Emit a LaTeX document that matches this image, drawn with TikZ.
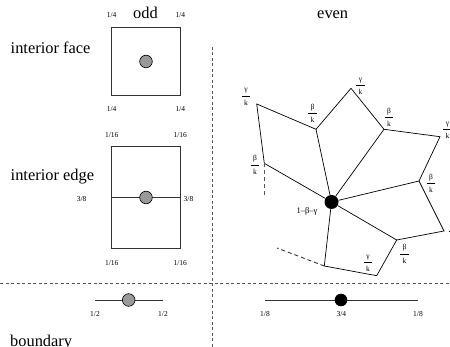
\documentclass[tikz,border=0pt]{standalone}
\usepackage{fontspec}
\setmainfont{Liberation Serif}
\definecolor{dotgray}{HTML}{999999}
\definecolor{rulegray}{HTML}{555555}
\newcommand{\overk}[1]{\begin{tabular}{@{\hspace{2.5pt}}c@{\hspace{2.5pt}}}#1\\\hline k\end{tabular}}

\begin{document}
\begin{tikzpicture}[x=1pt,y=-1pt,
  title/.style={font=\fontsize{16.4}{18}\selectfont,inner sep=0},
  wt/.style={font=\fontsize{7.5}{9}\selectfont,inner sep=0,anchor=base},
  fr/.style={font=\fontsize{7.5}{13}\selectfont,inner sep=0},
  cell/.style={draw=black!80,line width=0.7pt,inner sep=0},
  odddot/.style={circle,draw,line width=0.6pt,fill=dotgray,minimum size=12.6pt,inner sep=0},
  evendot/.style={circle,fill=black,minimum size=#1,inner sep=0},
  edge/.style={line width=0.7pt},
  stub/.style={line width=0.9pt,dash pattern=on 4pt off 3pt},
  divider/.style={draw=rulegray,line width=0.9pt,dash pattern=on 3pt off 2.5pt}]

  \useasboundingbox (0,0) rectangle (450,347);
  \clip (0,0) rectangle (450,347);

  \node[title,anchor=base] (odd) at (145.5,19) {odd};
  \node[title,anchor=base] (even) at (332.7,18.5) {even};
  \node[title,anchor=base west] (face) at (10.5,53.5) {interior face};
  \node[title,anchor=base west] (iedge) at (10.5,181) {interior edge};
  \node[title,anchor=base west] (bdry) at (10,346.5) {boundary};

  \draw[divider] (212,47) -- (212,347);
  \draw[divider] (0,283.3) -- (450,283.3);

  % odd: face point
  \node[cell,minimum width=68.6pt,minimum height=68.4pt] (sq) at (146,61.5) {};
  \node[odddot] (fdot) at (sq.center) {};
  \node[wt] (w1) at (111.7,18) {1/4};
  \node[wt] (w2) at (180.3,18) {1/4};
  \node[wt] (w3) at (111.7,111.5) {1/4};
  \node[wt] (w4) at (180.3,111.5) {1/4};

  % odd: edge point
  \node[cell,minimum width=68.6pt,minimum height=101.6pt] (rect) at (146,197.5) {};
  \draw[cell] (rect.west) -- (rect.east);
  \node[odddot] (edot) at (rect.center) {};
  \node[wt] (w5) at (111.7,137.5) {1/16};
  \node[wt] (w6) at (180.3,137.5) {1/16};
  \node[wt] (w7) at (111.7,266) {1/16};
  \node[wt] (w8) at (180.3,266) {1/16};
  \node[wt] (w9) at (81.7,201.5) {3/8};
  \node[wt] (w10) at (188.5,201.5) {3/8};

  % boundary, odd and even
  \coordinate (bl1) at (95,300);
  \coordinate (bl2) at (162.7,300);
  \draw[cell] (bl1) -- (bl2);
  \node[odddot] (bdot) at (128.7,300) {};
  \node[wt] (w11) at (95,316.5) {1/2};
  \node[wt] (w12) at (163,316.5) {1/2};
  \coordinate (br1) at (265,300);
  \coordinate (br2) at (417.7,300);
  \draw[cell] (br1) -- (br2);
  \node[evendot=12.6pt] (vdot) at (341,300) {};
  \node[wt] (w13) at (265,316.5) {1/8};
  \node[wt] (w14) at (341.3,316.5) {3/4};
  \node[wt] (w15) at (418,316.5) {1/8};

  % even: vertex of valence k
  \node[evendot=14pt] (c) at (331.5,202) {};
  \coordinate (b1) at (264.3,163.3);
  \coordinate (b2) at (316,129.3);
  \coordinate (b3) at (384,129.3);
  \coordinate (b4) at (419,181);
  \coordinate (b5) at (396.7,240);
  \coordinate (b6) at (324.3,266);
  \coordinate (g1) at (256.7,104);
  \coordinate (g2) at (351,88.3);
  \coordinate (g3) at (440,136.7);
  \coordinate (g4) at (444,231);
  \coordinate (g5) at (376.7,275.7);
  \coordinate (s1) at (264.3,198);
  \coordinate (s2) at (277,248);

  \foreach \b in {b1,b2,b3,b4,b5,b6}
    \draw[edge] (c) -- (\b);
  \draw[edge] (b1) -- (g1) -- (b2) -- (g2) -- (b3) -- (g3) -- (b4)
    -- (g4) -- (b5) -- (g5) -- (b6);
  \draw[stub,rulegray] (b1) -- (s1);
  \draw[stub,black!80] (b6) -- (s2);

  \node[fr] (lg1) at (246,96) {\overk{γ}};
  \node[fr] (lb2) at (312.5,113.5) {\overk{β}};
  \node[fr] (lg2) at (360.5,85.5) {\overk{γ}};
  \node[fr] (lb3) at (389,117.5) {\overk{β}};
  \node[fr] (lg3) at (447.5,129.5) {\overk{γ}};
  \node[fr] (lb1) at (255,165) {\overk{β}};
  \node[fr] (lb4) at (431,183.3) {\overk{β}};
  \node[fr] (lg4) at (453.5,231) {\overk{γ}};
  \node[fr] (lb5) at (404.5,254) {\overk{β}};
  \node[fr] (lg5) at (368,262.7) {\overk{γ}};
  \node[wt,anchor=center,font=\fontsize{8.5}{10}\selectfont] (lc) at (307,211.5) {1–β–γ};
\end{tikzpicture}
\end{document}
